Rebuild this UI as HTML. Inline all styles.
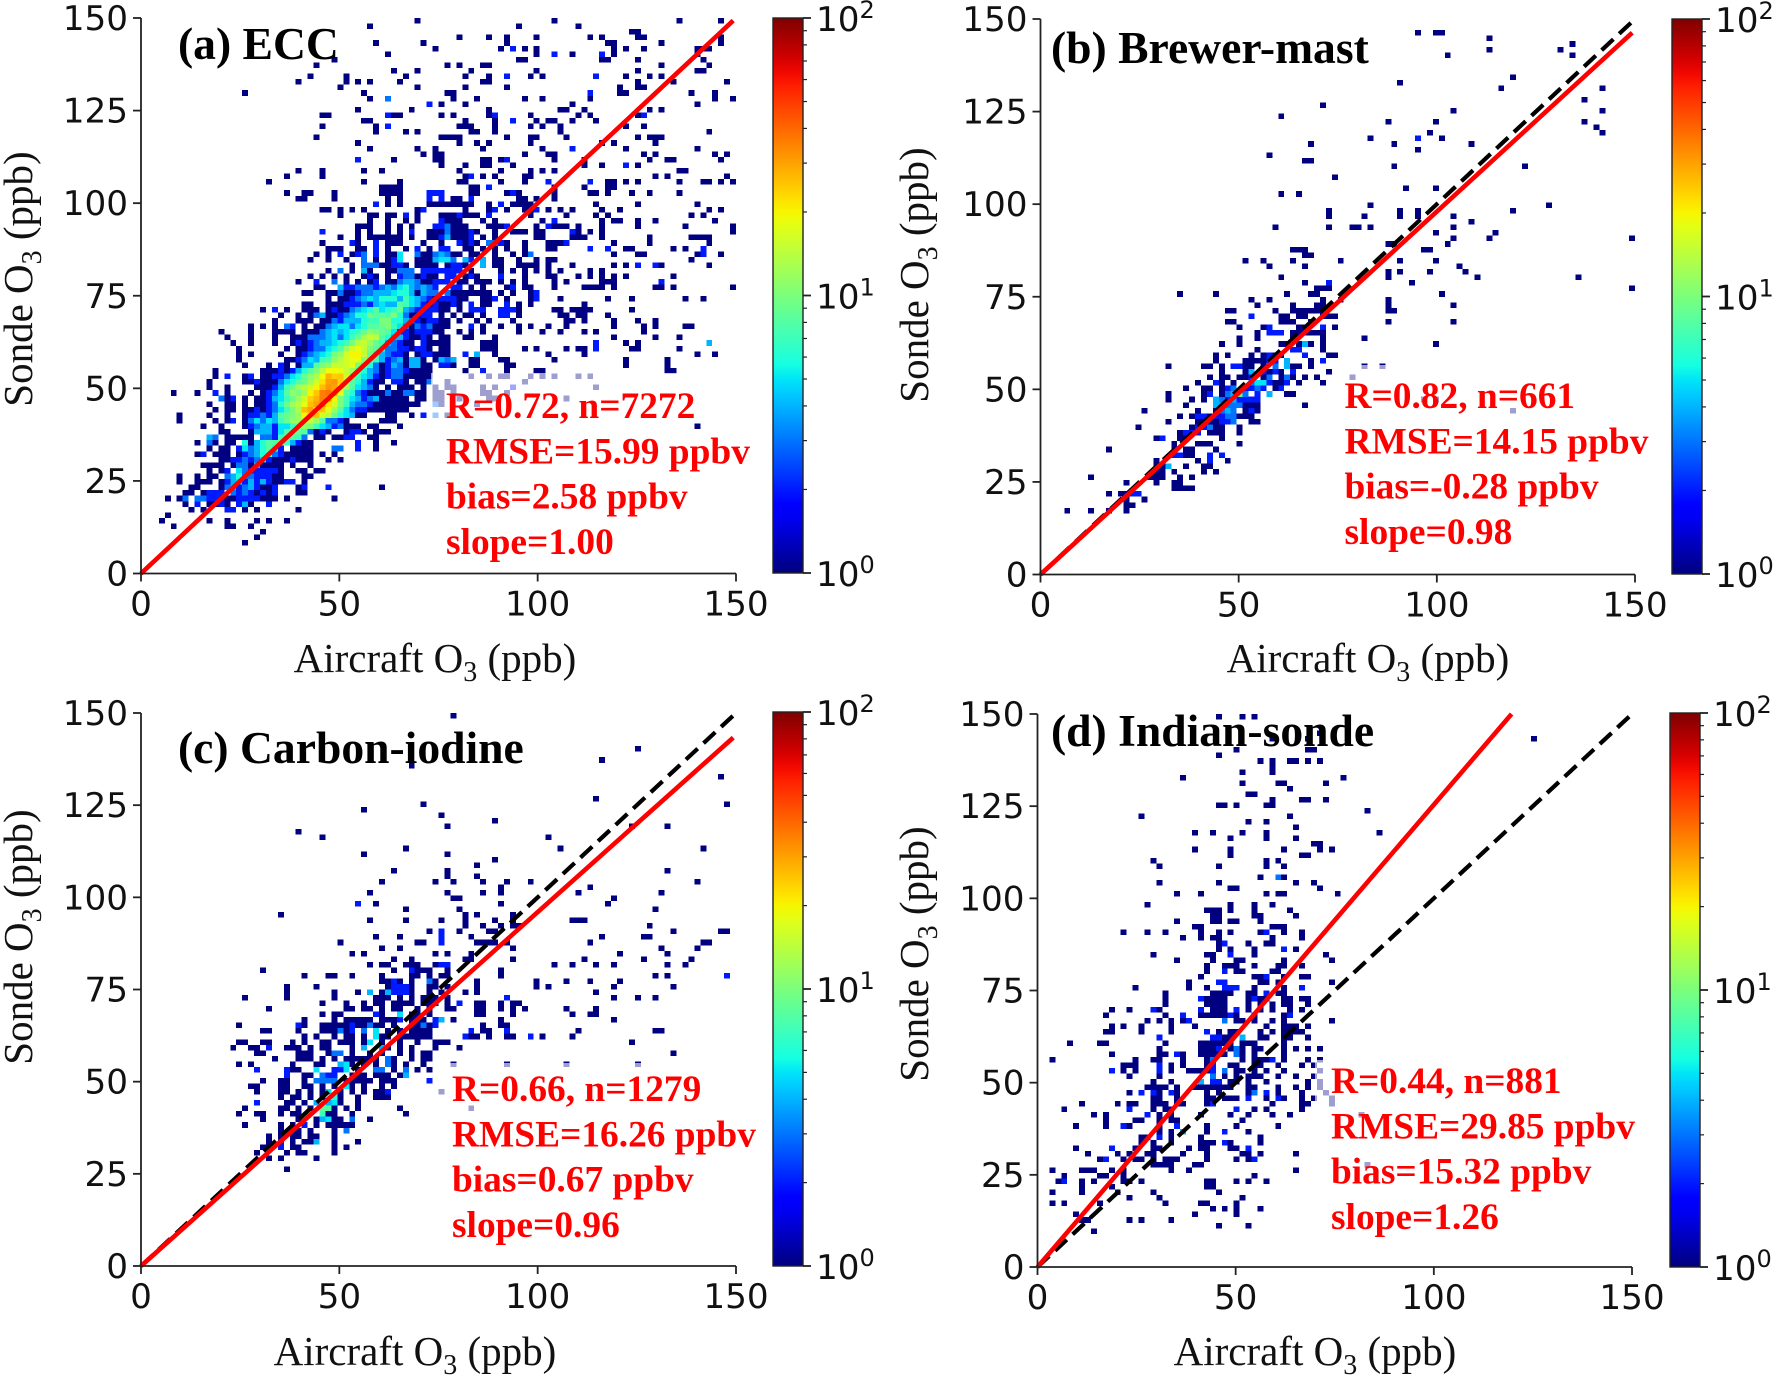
<!DOCTYPE html>
<html lang="en">
<head>
<meta charset="utf-8">
<title>Sonde vs aircraft O3 comparison</title>
<style>
html,body{margin:0;padding:0;background:#fff;}
svg{display:block;}
.tick{font-family:"DejaVu Sans",sans-serif;font-size:34.2px;fill:#111;}
.axis-title{font-family:"Liberation Serif",serif;font-size:41px;fill:#111;}
.panel-title{font-family:"Liberation Serif",serif;font-weight:bold;font-size:45.6px;fill:#000;}
.stat{font-family:"Liberation Serif",serif;font-weight:bold;font-size:37.4px;fill:#ff0000;}
</style>
</head>
<body>
<svg id="figure" xmlns="http://www.w3.org/2000/svg" width="1776" height="1375" viewBox="0 0 1776 1375">
<defs>
<linearGradient id="jet" x1="0" y1="1" x2="0" y2="0"></linearGradient>
</defs>
<rect width="1776" height="1375" fill="#fff"/>
</svg>
<script>
// Axis values
const xTicks = [0, 50, 100, 150];
const yTicks = [0, 25, 50, 75, 100, 125, 150];
const axisMax = 150;
const binWidth = 1.5;
const colorDecades = [0, 1, 2];

// Fit lines [slope]
const fitSlopes = {ecc: 1.00, brewer: 0.98, carbon: 0.96, indian: 1.254};

// 2-D histogram: each row is [yBin, xBin,count, xBin,count, ...]
const eccRows = [
[5,17,1],[6,19,1],[7,20,1],
[8,5,1,14,1,15,1,18,1],
[9,3,1,11,1,14,1,19,1,21,1,24,1],
[10,4,1],
[11,8,1,10,1,14,2,15,2,17,1,19,1,26,1],
[12,7,1,9,2,11,1,12,1,13,2,14,1,16,2,17,4,18,1,21,2],
[13,4,1,6,1,7,3,9,3,10,3,11,2,12,2,13,2,14,1,15,1,16,2,17,2,18,2,19,2,20,1,21,1,22,1,24,1,32,1],
[14,7,1,8,1,10,1,11,2,12,2,13,2,15,3,16,2,17,3,18,2,19,1,20,2,21,1,22,2,26,1,27,1],
[15,8,1,9,1,13,1,14,3,15,4,16,2,17,3,18,4,19,2,20,1,21,1,22,2,26,1,27,2,31,2,40,1],
[16,6,1,9,1,10,1,11,1,13,1,14,2,15,4,16,5,17,2,18,4,19,2,20,4,21,2,22,1,23,1,24,2,25,2,27,1],
[17,6,1,9,1,11,1,12,1,14,3,15,4,16,6,17,3,18,3,19,2,20,2,21,2,22,1,23,1,27,1,28,1],
[18,11,1,13,1,14,2,16,5,17,3,18,2,19,2,20,2,21,2,22,2,23,1,26,1,27,1,29,1,30,1],
[19,10,1,11,1,12,1,13,1,15,1,16,3,17,3,18,1,19,4,20,1,21,1,22,1,23,1,25,1,28,1],
[20,13,1,14,1,15,2,16,2,17,3,18,2,19,3,20,5,21,2,22,1,23,1,24,1,25,2,26,1,27,1,28,1,31,1,33,1],
[21,9,1,10,2,12,1,13,1,14,1,16,1,17,2,18,3,19,4,20,6,21,7,22,3,23,2,24,1,25,1,26,1,27,1,28,1,30,1,32,1],
[22,11,1,13,1,14,1,16,2,17,5,18,3,19,4,20,6,21,8,22,6,23,2,25,1,26,1,27,1,28,1,32,3,33,3,36,2,39,1],
[23,9,1,11,3,12,1,14,1,15,1,17,6,18,1,19,4,20,6,21,8,22,8,23,9,24,7,25,4,26,2,27,1,28,1,36,2,39,1,42,1],
[24,11,4,12,3,14,1,15,1,16,1,17,1,18,1,20,3,21,3,22,2,23,7,24,8,25,8,26,7,27,3,29,1,30,1,32,1,33,1,34,2,35,2,38,1,39,1],
[25,13,1,14,1,18,1,19,4,20,4,21,4,22,2,23,5,24,8,25,9,26,9,27,8,28,3,29,1,30,2,31,1,34,1,35,2,36,2,37,1,39,1,40,1,41,1],
[26,10,1,13,1,17,1,18,2,19,3,20,4,21,4,22,2,23,5,24,5,25,7,26,9,27,11,28,10,29,7,30,5,31,4,32,2,33,3,34,1,35,1,36,1,38,1,39,1,43,1],
[27,6,1,12,1,14,1,15,2,17,1,18,3,19,5,20,3,21,5,22,4,23,7,24,9,25,11,26,12,27,14,28,15,29,12,30,8,31,3,32,3,33,2,34,1,40,1,41,1,42,1],
[28,6,1,11,1,14,1,17,1,18,2,19,2,20,3,21,2,22,4,23,8,24,9,25,10,26,12,27,20,28,24,29,26,30,16,31,14,32,9,33,6,34,5,35,4,36,1,37,1,41,1,42,1,45,1,47,2,49,3],
[29,12,1,14,1,15,1,17,1,18,1,19,2,20,1,21,2,22,3,23,5,24,7,25,10,26,13,27,26,28,30,29,20,30,25,31,18,32,12,33,8,34,5,35,3,36,2,37,2,38,1,39,1,40,1,41,1,42,1,43,1,44,1],
[30,11,1,14,1,15,1,17,1,19,1,20,1,21,2,22,3,23,6,24,9,25,12,26,14,27,18,28,26,29,30,30,35,31,22,32,16,33,10,34,7,35,4,36,3,37,3,38,2,39,1,40,1,41,1,42,1,43,1,44,1,45,1,46,1,49,3],
[31,13,3,14,1,15,2,17,1,19,1,20,1,21,2,22,4,23,5,24,7,25,9,26,12,27,16,28,24,29,28,30,36,31,32,32,20,33,10,34,7,35,5,36,4,37,2,38,3,39,4,40,1,41,1,42,1,43,1,44,1,46,1,47,1],
[32,5,1,9,1,12,2,14,1,18,1,20,1,21,2,22,3,23,5,24,8,25,11,26,10,27,12,28,20,29,25,30,36,31,38,32,30,33,18,34,8,35,6,36,3,37,2,38,1,39,1,40,1,41,3,42,1,43,1,44,3,45,3,46,1,47,1],
[33,11,1,14,1,19,1,20,1,21,1,22,2,23,4,24,7,25,9,26,12,27,14,28,16,29,20,30,26,31,32,32,30,33,22,34,12,35,8,36,5,37,4,38,3,39,1,41,1,43,1,44,1,45,1,47,1],
[34,11,1,17,1,18,1,19,2,20,1,21,1,22,1,23,3,24,5,25,6,26,8,27,9,28,12,29,16,30,22,31,30,32,32,33,24,34,12,35,8,36,6,37,4,38,2,39,1,40,1,42,2,43,2,44,1,46,1,47,1,48,3],
[35,12,1,14,2,17,1,18,2,20,1,21,1,22,2,23,2,24,3,25,5,26,6,27,9,28,11,29,13,30,19,31,28,32,24,33,25,34,16,35,10,36,7,37,5,38,4,39,2,40,1,41,2,42,3,43,3,44,1,45,1,46,1,47,1,48,1],
[36,12,1,20,1,21,1,22,1,23,2,24,1,25,2,26,4,27,6,28,8,29,10,30,14,31,19,32,19,33,18,34,15,35,12,36,8,37,6,38,4,39,3,40,1,41,2,42,3,43,3,44,2,45,1,46,1,47,1,48,1],
[37,17,1,21,1,23,2,24,1,26,1,27,4,28,4,29,8,30,10,31,11,32,15,33,15,34,16,35,18,36,10,37,8,38,6,39,3,40,1,41,2,42,4,43,3,44,1,45,4,46,4,47,1,48,1],
[38,16,1,24,1,25,1,26,2,27,3,28,5,29,4,30,7,31,8,32,11,33,14,34,16,35,18,36,18,37,11,38,8,39,7,40,4,41,2,42,3,43,4,44,1,45,4,46,4,47,1,49,1],
[39,16,1,18,1,23,1,26,1,27,2,28,3,29,4,30,5,31,6,32,10,33,11,34,16,35,20,36,20,37,15,38,9,39,6,40,4,41,3,42,2,43,2,44,1,46,1,47,2,48,2,49,1],
[40,16,1,24,1,26,1,27,1,28,2,29,3,30,3,31,5,32,6,33,8,34,12,35,16,36,18,37,15,38,10,39,8,40,6,41,3,42,3,43,2,44,2,45,1,46,2,47,2,48,1],
[41,15,1,18,1,22,1,25,1,26,2,27,1,28,2,29,3,30,4,31,4,32,5,33,6,34,7,35,10,36,14,37,15,38,12,39,9,40,7,41,4,42,3,43,2,44,1,45,1,47,2,48,1,49,1],
[42,14,1,18,1,22,1,25,1,26,1,27,1,28,3,29,3,30,3,31,4,32,5,33,3,34,5,35,7,36,9,37,13,38,15,39,14,40,8,41,6,42,4,43,4,44,2,45,1,46,1,47,2,48,1],
[43,13,1,18,1,22,1,23,1,24,1,25,1,27,1,28,1,29,1,30,3,31,4,32,5,33,4,34,5,35,6,36,7,37,9,38,11,39,10,40,9,41,8,42,5,43,2,44,2,45,1,46,2,47,2,48,2,49,1],
[44,18,1,20,1,22,1,24,3,25,2,27,1,29,1,30,1,31,3,32,4,33,5,34,5,35,3,36,5,37,6,38,8,39,8,40,9,41,10,42,7,43,5,44,3,45,1,46,3,47,2,48,3],
[45,22,1,26,1,27,1,28,1,30,1,31,1,32,3,33,2,34,4,35,4,36,4,37,6,38,7,39,7,40,10,41,10,42,6,43,6,44,4,45,3,46,2,47,1,48,2,49,2],
[46,23,1,26,1,28,1,29,3,30,4,31,1,32,1,33,2,34,3,35,4,36,6,37,6,38,9,39,8,40,8,41,8,42,10,43,6,44,3,45,1,46,1,47,2,48,2],
[47,20,1,22,2,24,1,27,1,28,1,29,1,31,1,32,2,33,1,34,1,35,3,36,4,37,5,38,6,39,8,40,5,41,6,42,7,43,9,44,4,45,3,46,2,47,2,48,2,49,2],
[48,27,1,28,1,31,1,32,1,33,1,34,2,35,2,36,2,37,3,38,2,39,4,40,5,41,4,42,4,43,8,44,7,45,5,46,4,47,2,48,1,49,2],
[49,31,1,33,1,34,1,35,2,36,3,37,4,38,5,39,4,40,6,41,6,42,6,43,4,44,7,45,5,46,4,47,3,48,2,49,1,61,1,70,1,78,1,82,1,91,1,94,1],
[50,27,1,28,1,31,1,32,1,33,3,34,1,35,1,36,2,37,3,38,3,39,4,40,4,41,4,42,5,43,6,44,6,45,4,46,1,47,4,48,3,49,3,51,3,53,1,54,1,56,1,57,1,58,1],
[51,29,1,30,1,33,4,34,2,35,2,36,3,37,3,38,3,39,2,40,3,41,4,42,3,43,5,44,6,45,4,46,3,47,4,48,3,49,2,52,2,53,2,55,1,57,1,61,1,62,2,64,1,65,1,69,1,74,1,75,1,76,1,77,1,79,1,86,1,87,1,89,1,99,1],
[52,26,1,29,2,32,3,34,1,36,1,38,1,39,2,41,1,42,1,43,3,44,4,45,4,46,3,47,1,48,1,49,2,50,2,51,2,53,1,54,1,56,1,57,1,58,1,60,1,62,1,64,1,69,1,71,1,77,1,78,1,79,1,87,2],
[53,28,1,30,1,32,1,34,1,37,1,38,2,39,1,41,1,43,2,44,3,45,3,46,1,47,2,48,1,49,1,51,2,52,2,54,1,55,2,56,1,60,2,64,1,68,1,69,1,73,1,75,1,77,1,79,1,81,1,89,1],
[54,31,1,33,3,35,1,37,4,38,1,41,1,42,1,43,3,44,3,45,3,47,2,48,2,49,2,50,2,51,2,52,2,53,2,55,1,60,1,62,1,64,1,66,1,68,1,70,1,75,1,77,1],
[55,35,1,37,3,38,3,39,3,40,1,41,1,42,2,43,2,44,1,46,1,47,1,48,1,49,1,51,1,52,2,53,2,54,1,57,4,59,1,60,1,63,1,64,1,65,1,66,1,68,1,72,1,79,1,81,1,83,2,86,2,87,1,95,1],
[56,28,1,31,1,34,1,37,3,39,1,41,1,42,2,43,5,46,1,47,1,48,1,49,4,50,5,51,5,52,3,54,4,55,2,57,4,59,1,60,1,63,1,66,1,68,1,69,1,92,1],
[57,29,1,31,1,33,2,35,1,36,2,37,3,39,2,41,1,42,1,43,5,46,3,47,1,48,1,49,3,50,4,51,3,52,1,53,1,55,1,56,1,59,1,62,1,64,1,65,3,79,1,83,1,84,1,93,1,94,2,97,1],
[58,31,1,32,1,33,1,36,1,37,1,39,2,41,1,44,1,46,2,48,1,50,2,51,2,54,1,55,1,57,1,59,1,61,1,64,1,68,1,69,1,75,2,78,2,81,1,82,1,89,1,91,1,94,2],
[59,30,1,35,2,36,1,39,2,41,1,42,1,43,1,47,1,50,1,53,2,54,1,55,2,56,1,58,3,59,3,60,2,61,1,64,1,68,1,69,1,70,1,71,2,79,1,85,1,95,1],
[60,33,1,36,1,38,1,39,1,40,1,41,1,42,1,43,1,45,1,48,1,49,1,50,2,51,4,52,1,53,1,54,1,55,2,57,1,59,1,66,1,67,1,72,1,73,1,74,1,77,1,92,1,93,1,94,1,95,1,85,1],
[61,30,2,36,1,38,1,41,1,43,1,45,2,48,1,49,1,50,1,51,3,52,1,53,1,54,1,55,2,56,1,59,1,62,1,63,1,64,1,66,1,67,1,72,2,73,1,75,1,77,1,99,1],
[62,36,1,37,1,38,1,41,1,43,1,45,1,49,2,50,2,51,3,52,1,53,1,54,1,58,1,59,1,60,1,61,2,66,1,68,2,69,1,70,1,71,1,73,1,77,1,83,1,91,1,99,1],
[63,38,1,41,1,44,1,46,1,50,2,51,1,52,1,53,1,57,1,59,1,67,1,69,2,77,1,79,1,80,1,83,1,86,1,96,1],
[64,33,1,38,1,39,1,41,1,42,1,44,2,46,1,50,1,51,1,52,1,53,2,54,1,55,1,56,1,58,2,65,1,71,1,76,1,78,1,92,1,94,1],
[65,30,1,31,1,33,1,35,1,37,1,46,1,47,2,54,1,58,1,59,2,61,1,64,1,65,1,66,2,68,1,70,1,72,1,77,1,80,1,95,1,97,1],
[66,39,2,41,1,43,1,48,1,49,1,50,1,51,1,52,1,53,1,54,1,55,1,58,1,60,2,62,1,63,1,64,1,65,1,76,1,83,1,93,1],
[67,26,1,27,1,32,1,41,1,43,1,48,2,50,2,52,1,53,1,55,2,63,1,64,1,66,1,69,1],
[68,40,1,41,1,42,1,43,1,48,2,49,2,50,2,55,1,56,1,61,1,62,2,63,1,69,1,75,1,76,1,78,1,82,1,85,1,90,1,24,1,27,1,28,1,32,1],
[69,40,1,41,1,42,1,43,1,55,1,56,1,58,2,69,1,74,1,78,1,79,1],
[70,21,1,37,1,43,1,53,1,54,1,60,1,64,1,68,2,75,2,78,1,79,1,81,1,83,1,90,1,94,1,95,1,97,1,99,1],
[71,24,1,30,1,54,1,55,2,57,1,59,1,64,1,65,1,86,1,88,1,98,1],
[72,26,1,30,1,37,1,40,1,53,1,60,1,65,1,67,1,69,1,90,1,91,1],
[73,50,1,54,1,57,1,58,1,62,1,74,1,77,1,81,2,83,1],
[74,36,2,42,1,49,1,50,1,57,1,58,1,60,1,61,2,69,1,74,1,85,1,88,1,89,1,97,1],
[75,47,1,49,1,50,1,64,1,68,1,69,1,84,1,86,1,96,1,98,1],
[76,38,1,46,1,49,1,57,1,67,1,72,2,81,1,93,1],
[77,36,1,53,1,56,1,58,1,65,1,77,1,79,1,86,1],
[78,29,1,50,1,51,1,52,1,53,1,61,1,65,1,66,1,71,1,83,1,85,1,86,1,87,1],
[79,39,1,44,1,46,1,55,1,56,1,59,1,70,1,95,1],
[80,30,1,39,1,41,2,53,1,54,1,55,1,59,1,65,1,67,1,70,1,81,1,84,1],
[81,37,1,38,1,54,1,59,1,62,2,66,1,68,1,69,1,72,1,76,1],
[82,30,1,31,1,41,2,42,1,43,1,50,1,52,1,58,1,59,2,65,1,73,1,75,1,83,1,84,2],
[83,36,1,45,1,58,1,70,1,71,1,74,1,85,1,87,1],
[84,48,2,50,1,54,1,72,1,93,1],
[85,38,1,41,3,52,1,56,1,64,1,67,1,75,1,96,1,99,1],
[86,17,1,37,1,51,1,52,1,75,2,80,1,81,1,92,1,96,1],
[87,33,1,46,1,54,1,61,1,80,1,83,1,84,1],
[88,26,1,34,1,36,1,38,1,43,1,57,1,58,1,83,1,89,1,98,1],
[89,28,1,34,1,44,1,54,1,58,1,61,2,65,1,67,1,76,2,81,1,85,1,87,1],
[90,42,1,46,1,55,1,66,1,83,1,93,1,94,1],
[91,29,1,51,1,53,1,57,1,58,1,87,1,95,1],
[92,32,1,63,1,64,1,77,1,78,1,83,1,94,1],
[93,41,1,66,1,69,2,72,1,77,2,79,1,93,1],
[94,49,1,60,1,62,2,64,1,66,1,79,1,81,1,84,1,93,1,94,1,95,1],
[95,39,1,47,1,61,1,78,1,79,1,87,1,97,1],
[96,53,1,58,1,61,1,66,1,75,1,77,1,83,1,84,1,97,1],
[97,82,1,83,1],[98,38,1,63,1,73,1],[99,46,1,69,1,90,1,97,1],
[50,52,1,55,1,60,1,62,1,65,1,66,2],
[49,50,2,51,2,52,2,53,1,54,1,57,1,58,1,59,2,65,1,66,2],
[48,50,1,51,1,52,2,53,1,55,2,57,1,58,1,61,2,63,1,65,1,74,1],
[47,50,1,51,1,53,1,55,2,56,2,57,2,60,2,61,2,62,2,63,1,69,1,70,1,72,1,73,1,74,1,75,1,82,1],
[46,50,1,52,1,54,1,55,1,57,1,60,2,61,2,63,1,70,1,71,1,73,1,74,1,78,1],
[45,50,1,51,1,53,1,56,1,58,1,62,1,71,1,72,1,74,1,79,1,83,1,86,1],
[44,49,1,50,1,51,1,55,2,57,1,60,1,63,1,65,1,68,1,71,1,79,1,84,1,86,1,91,1,92,1],
[43,50,1,53,1,55,1,57,1,63,1,67,1,70,1,74,1,76,1,84,1],
[42,50,1,51,1,54,1,55,1,59,1,79,1,86,1,90,1],
[41,50,1,51,1,57,1,58,1,59,1,76,2,81,1,83,1,95,4],
[40,50,1,51,1,57,1,58,1,59,1,64,1,66,1,71,1,73,1,74,1,76,2,82,1,83,1,90,1],
[39,50,1,51,1,54,2,56,4,59,1,68,1,74,1,93,1,96,1],
[38,50,4,51,3,52,4,55,1,56,1,60,1,61,1,69,1,81,1,88,1],
[37,50,2,51,2,52,1,55,1,56,1,61,1,62,1,81,1,88,1],
[36,54,1,57,2,61,1,66,1,67,1,88,1,89,1],
[35,55,1,58,1,60,1,61,1,65,1,67,1,69,1,73,1,75,1],
[34,51,1,64,1],
[33,49,1,51,1,52,1,57,1,59,1,62,2,76,1],
[32,49,1,50,1,52,1,57,1,58,1,61,1],
[31,49,1,50,1,53,1,58,1,59,1,71,1],
[30,50,1,56,1],[26,93,1],[28,51,1]
];
const brewerRows = [
[11,4,1,8,1,11,1,14,1],[12,14,1,15,1],[13,17,1,14,1],
[14,11,1,13,1,14,1,15,2,16,2],[15,22,1,23,1,24,1,25,1],
[16,14,1,19,1,22,1,23,1],[17,8,1,18,1,19,1,20,1,23,1,25,1],
[18,19,1,20,1,22,1,27,1,29,1],[19,19,1,20,1,21,4,24,1,27,1,28,1],
[20,19,1,26,1,28,2,31,1],[21,22,2,23,2,24,1,25,1,28,2,30,2],
[22,11,1,22,1,24,1,25,1,29,1],[23,22,1,26,1,27,1,28,1,33,1],
[24,19,1,20,2,23,1,24,1,30,1],[25,23,1,24,2,25,2,26,2,28,1,29,1,30,1,33,1],
[26,16,1,25,1,26,2,27,2,28,3,29,1,30,1,33,1],
[27,21,1,26,1,27,1,28,1,29,1,30,2,31,2,32,3,35,1,36,1],
[28,23,1,25,1,26,2,27,2,28,1,29,2,30,2,31,3,32,3,33,1,34,1,35,1],
[29,17,1,26,1,29,1,30,3,31,4,32,3,34,1,35,2,36,1],
[30,24,1,29,4,30,4,31,3,32,3,33,3,34,1,35,1,36,1,44,1],
[31,21,1,25,1,27,1,29,4,30,3,31,2,32,4,33,2,34,2,35,2,36,2],
[32,21,1,27,1,28,2,30,1,31,3,32,4,33,8,34,3,36,2,38,4,41,1,42,1],
[33,24,1,27,1,28,1,30,1,31,2,32,3,34,2,35,2,36,3,37,2,39,1,40,2],
[34,26,1,29,2,30,1,32,1,35,3,36,5,37,5,38,2,39,1,40,1,41,2,43,1,47,1],
[35,28,1,30,1,31,1,33,1,34,1,35,2,37,1,38,3,40,1,41,3,42,1,44,1,46,1],
[36,30,1,34,1,35,4,37,2,38,1,39,2,40,1,42,2,48,1],
[37,21,1,27,1,28,1,30,1,32,2,33,2,34,1,35,1,37,1,39,3,41,4,42,1,43,1,45,1],
[38,29,1,34,1,35,1,36,1,37,1,38,2,39,2,41,4,45,1,47,2],
[39,29,1,31,1,35,1,37,1,38,2,39,1,40,1,44,2,48,1,49,1],
[40,36,1,42,2,43,2,47,1],[41,30,1,33,1,40,1,41,1,43,1,44,4,45,1,47,1,66,1],
[42,33,1,36,1,42,1,47,1,54,1],
[43,36,1,38,2,39,2,40,2,42,1,43,1,44,1,45,1,46,1,47,1],
[44,33,1,37,1,38,2,43,1,44,1,47,2,49,1],
[45,31,1,32,1,40,1,41,1,42,1,45,1,58,1,69,1],
[46,35,2,40,1,41,1,43,1,44,1,47,1,48,1,49,1],
[47,31,1,32,1,39,1,42,1,43,1,44,1,45,1,46,1,47,1,58,1,59,1],
[48,36,1,42,1,46,1,47,1,58,1,69,1],
[49,35,1,38,1,47,1,50,1,58,1],
[50,23,1,29,1,41,1,45,1,46,1,67,1],
[51,46,1,47,1,48,1,99,1],[52,44,1,48,2,62,1],
[53,40,1,58,1,73,1,90,1],[54,58,1,60,1,65,1,71,1],
[55,38,1,44,1,70,1],[56,34,1,37,1,42,1,50,1,60,1,66,1],
[57,44,1,45,1],[58,42,1,43,1,44,1,64,1,65,1],
[59,58,1,59,1,68,1],[60,69,1,75,1,99,1],[61,66,1,76,1],
[62,39,1,48,1,52,1,53,1,55,1,69,1],[63,72,1],[64,48,1,54,1,60,1,63,1,69,1],
[65,48,1,60,1,63,1,79,1],[66,55,1,85,1],[68,40,1,43,1],[69,61,1,66,1],
[71,49,1],[73,59,1,81,1],[74,44,1,45,1],[75,38,1],[76,63,1],
[77,45,1,59,1,72,1],[78,55,1,63,2,67,1],[79,65,1,94,1],[80,93,1],
[81,58,1,66,1,91,1],[82,40,1],[83,69,1,94,1],[84,47,1],[85,91,1],
[87,77,1,94,1],[88,60,1],[89,79,1],[93,68,1,89,1],[94,75,1,87,1],
[95,89,1],[96,75,1],[97,63,1,66,1,67,1],
[37,54,1,57,1],[35,52,1],[29,79,1],[31,64,1,66,1]
];
const carbonRows = [
[17,24,1],
[19,21,1,23,1,29,1],
[20,19,1,24,1,26,1,27,1,32,1],
[21,20,1,21,1,23,2,25,1,26,1,32,1,34,1],
[22,21,1,23,2,25,1,27,1,28,1,29,4,32,1,36,1],
[23,21,1,23,1,25,1,26,1,28,1,29,1,32,1],
[24,23,1,25,1,26,1,28,1,32,1,34,3],
[25,17,1,23,1,25,1,27,2,29,1,31,1,32,1,33,1,34,1,35,1],
[26,20,1,26,1,29,1,30,4,31,5,32,1,33,1,35,3,38,1],
[27,16,1,19,1,20,1,23,1,25,1,26,1,30,7,31,1,32,1,35,1,44,1],
[28,17,1,23,1,24,1,26,1,28,1,30,8,31,8,32,1,34,1,36,1,43,1],
[29,19,2,24,1,25,1,27,1,29,4,31,4,32,5,33,1,36,1],
[30,23,1,25,1,26,1,28,1,30,1,32,6,33,1,36,1,39,1,40,1,41,1],
[31,19,1,23,1,24,1,26,1,28,1,30,1,31,5,33,1,35,1,37,1,39,1,40,1,41,2],
[32,18,1,19,1,23,1,24,1,27,1,28,1,30,1,32,1,34,5,35,1,37,1,40,1,42,1],
[33,20,1,23,1,24,1,27,1,29,3,30,3,31,3,32,3,34,1,35,1,36,1,37,1,38,1,40,1,41,1,42,1,48,2],
[34,24,2,27,1,28,1,30,3,31,2,32,2,35,1,36,1,37,1,39,1,40,1,41,1,43,1,44,4],
[35,19,2,24,2,25,1,26,1,29,5,32,2,33,2,34,5,36,1,39,3,40,3,42,1,44,3,46,1,48,1],
[36,16,1,18,1,25,1,29,1,30,1,33,4,34,5,35,1,37,1,39,1,41,3,42,1,44,1,47,1],
[37,22,1,26,1,27,1,28,1,30,1,32,1,34,1,35,1,36,1,37,1,38,1,39,1,41,3,42,1,45,1,47,1,48,1],
[38,19,1,20,1,26,1,27,1,28,1,31,1,32,3,33,3,35,1,38,1,40,1,43,1,45,1,47,1,48,1,89,1],
[39,15,1,18,1,19,1,21,2,24,1,25,1,26,1,28,1,30,1,31,1,35,1,37,4,40,4,41,1,43,1,45,1,49,1,53,1],
[40,16,1,17,1,20,1,21,1,25,1,27,1,30,1,31,1,33,1,34,1,35,1,37,1,38,5,40,1,43,1,46,1,49,1,50,1,51,1,82,1],
[41,27,1,29,1,32,1,34,1,35,1,37,1,39,5,40,1,41,1,43,1,44,1,45,1,46,1,47,1,48,1,54,2,55,1,56,1,58,1,61,1,62,1,65,2,67,1,72,1],
[42,20,1,21,1,26,1,30,1,31,1,32,1,33,3,34,1,35,2,37,3,39,5,41,1,43,1,45,1,46,1,47,1,48,1,55,2,57,1,58,1,61,2,73,1,86,1,87,1],
[43,16,1,26,2,27,1,30,1,31,1,32,1,33,1,34,1,35,2,36,1,37,1,38,3,39,1,40,1,42,1,45,1,46,1,47,3,48,1,49,2,57,1,60,1,61,1],
[44,27,1,32,1,34,1,35,1,36,1,37,1,38,1,40,1,41,1,42,1,43,2,45,1,46,1,47,1,49,2,50,4,52,1,60,1,79,1],
[45,30,1,32,1,33,1,39,2,40,1,43,5,45,1,46,1,48,1,56,1,57,1,62,1,72,1,75,1,76,1],
[46,21,1,34,1,35,1,37,1,38,1,40,1,42,1,43,1,46,1,48,1,51,1,52,1,56,1,57,1,60,1,62,1,64,1,71,1,76,1],
[47,30,1,34,1,37,1,39,1,40,1,42,1,43,1,44,1,45,1,47,1,48,1,49,1,51,1,53,2,56,1,57,1,60,1,62,1,63,1],
[48,17,1,24,1,32,1,39,1,40,1,41,1,43,1,45,1,47,1,48,1,49,1,51,1,61,2,83,1,86,1,79,1],
[49,24,1,32,1,36,1,38,4,40,1,41,4,42,2,43,2,44,2,45,1,48,1,50,1,54,1,56,1,76,1],
[50,24,1,29,1,41,1,42,2,43,2,44,2,45,1,48,1,49,1,51,1,56,1,66,1,68,1,79,1,89,1],
[51,40,1,41,1,42,2,43,1,45,1,48,3,49,1,56,1,66,1,71,1,75,1,80,1],
[52,27,1,31,1,32,1,35,1,40,1,45,1,46,1,48,1,50,1,51,1,60,1,86,1,88,1,98,2],
[53,20,1,42,1,45,2,46,1,47,1,48,1,51,1,60,1],
[54,38,1,40,1,41,1,44,1,45,1,46,1,49,1,50,2,51,2,69,1,72,1,76,1,79,1,88,1,91,1],
[55,42,1,45,1,54,1,55,1,62,1,74,1,84,1,92,1],
[56,35,1,37,1,49,1,51,1,55,1,80,1,88,1],
[57,40,1,43,1,62,1,87,1,93,1],
[58,33,1,46,1,47,1,50,2,56,1,57,1,58,1,59,1,61,1,75,1,94,1,95,1],
[59,39,1,43,1,50,2,55,1,77,1,84,1,85,1],
[60,48,1,50,2,53,1,58,1,59,1,89,1,97,1,98,1],
[61,54,1,57,1,60,1,62,1,63,1,85,1],
[62,38,1,44,1,50,1,54,1,59,1,62,1,72,1,73,1,74,1],
[63,23,1,54,1,56,1,62,1],[64,44,1,53,1,86,1],[65,36,2,60,1,39,1,78,1],
[66,52,1,53,1,79,1],[67,38,1,51,1,57,1,60,1,73,1,87,1],[68,60,1,75,1],
[69,40,1,49,1,52,1,57,1,61,1,65,1,93,1],[70,51,1,56,1],
[71,42,1,51,1,88,1],[72,56,1],[73,59,1],[74,37,1,51,1],[75,44,1,70,1,94,1],
[77,30,1,68,1],[78,26,1],[79,51,1,82,1,88,1],[80,59,1],[81,50,1],
[82,37,1],[83,47,1,98,1],[84,76,1],[88,97,1],[90,45,1],[91,77,1],[93,83,1],[99,52,1],
[36,52,1,61,1,71,1,83,1],[31,50,1],[28,55,1]
];
const indianRows = [
[6,9,1],[7,30,1,35,1],[8,7,1,8,1,15,1,17,1,22,1],[9,6,1,26,1,33,1],
[10,29,1,31,1,33,1,37,1],
[11,2,1,4,1,10,1,21,1,27,1,28,1,33,1],
[12,15,1,20,1,34,1],
[13,2,1,7,1,13,1,19,1,30,1],
[14,12,1,28,1,29,1,7,1],
[15,3,1,4,2,7,1,9,1,14,1,15,1,17,1,28,1,29,1,33,1,35,1,38,1],
[16,4,1,10,1,11,1,14,1,36,1],
[17,2,1,7,1,8,1,9,1,12,1,14,1,22,1,25,1,43,1],
[18,19,1,20,1,21,1,22,1,26,1,27,1,55,1],
[19,10,1,11,2,14,1,16,1,17,1,19,1,21,1,22,1,23,1,28,1,33,1,35,1,36,2],
[20,8,1,13,1,15,1,18,1,19,1,24,1,28,1,34,1,35,1,37,1,43,1],
[21,6,1,12,2,16,1,19,1,20,1,25,1,27,1,28,1,32,1,33,1,35,2],
[22,17,1,19,1,22,1,27,1,28,1,29,1,31,2,32,1,37,1],
[23,17,1,18,1,20,2,22,1,27,1,37,1],
[24,20,1,22,1,24,4,28,1,31,2,35,1],
[25,6,1,11,1,14,2,15,1,20,1,23,2,28,1,33,1,40,1],
[26,11,1,16,1,17,1,20,1,22,1,23,1,34,1],
[27,9,1,11,1,18,2,20,1,22,1,27,1,32,1,35,1,39,1,42,1],
[28,4,1,15,2,19,1,21,1,22,1,33,2,36,1,38,1,44,1],
[29,7,1,13,1,15,1,16,1,19,1,20,1,21,1,23,1,24,1,28,1,29,2,39,1,44,1,45,1],
[30,19,1,20,1,23,1,28,1,29,1,31,1,32,1,33,1,35,2,38,1,40,2,41,1,44,1,46,1],
[31,15,1,17,2,19,2,20,1,22,2,23,1,28,1,30,1,35,1,36,3,38,2,40,1,44,1],
[32,18,1,19,1,20,1,21,1,23,1,26,1,27,1,28,1,29,1,30,1,31,1,32,1,35,1,36,1,40,1,43,1,45,1],
[33,19,1,22,1,27,4,29,2,30,2,32,1,33,1,35,1,38,1,45,1],
[34,15,1,20,1,29,3,31,1,33,1,35,1,36,1,37,1,40,1,43,1,46,1],
[35,12,2,14,1,16,1,20,2,22,1,25,1,26,1,27,1,28,1,29,2,31,3,33,1,34,1,36,1,38,1,41,1],
[36,14,1,15,1,16,1,20,2,22,1,24,1,28,1,29,2,32,1,33,1,36,1,37,1,40,1,44,1,46,1],
[37,2,1,16,1,19,1,20,1,24,1,28,1,29,3,34,1,36,1,37,1,38,1,39,2,41,1,45,1],
[38,12,1,20,1,21,1,23,2,24,1,27,1,28,1,29,1,30,1,31,1,33,3,34,1,36,1,41,1],
[39,20,1,27,1,28,1,29,1,30,2,32,1,33,3,34,1,36,1,37,1,41,1,43,1,45,1],
[40,5,1,10,1,11,1,21,1,27,1,28,1,29,1,30,1,31,1,32,1,34,1,35,1,36,1,41,1],
[41,20,2,29,2,30,2,31,1,32,1,34,4,37,1,38,1,41,1,42,1,45,1],
[42,11,1,12,1,17,1,22,1,28,2,30,1,32,1,33,1,37,1,39,1,41,1,42,1,43,1,44,1],
[43,12,1,14,1,17,1,22,1,26,1,38,1,41,1,42,1,43,1,45,1],
[44,18,1,20,1,22,1,24,1,25,2,31,3,33,1,34,1,36,1,39,1,41,1,49,1],
[45,11,1,21,1,24,2,27,1,28,1,29,1,30,1,31,1,32,2,33,1,36,1,41,1,42,2],
[46,12,1,15,1,19,2,20,1,27,2,29,1,30,1,31,1,33,2,35,1,37,1,39,1,42,1,44,1],
[47,21,1,28,1,29,1,30,1,31,1,35,1,37,1,39,1,41,1,42,1,45,1],
[48,21,1,27,2,28,1,29,1,30,1,31,1,35,1,36,2,37,1,38,1,41,1,42,1,44,1,45,1],
[49,21,1,29,1,30,1,31,1,32,1,35,1,36,1,38,2,40,1,41,1],
[50,16,1,25,1,28,1,31,2,32,2,33,2,36,1,41,1,44,2],
[51,25,1,30,2,31,2,37,1,38,1,40,1,49,1],
[52,27,1,36,1,37,1,38,2,41,1,44,1,45,1],
[53,28,1,31,2,33,1,34,1,39,1,40,1],
[54,28,1,31,1,32,1,33,1,36,1,40,1,41,1,44,1],
[55,23,1,29,1,33,1,34,1,41,1,49,1],
[56,19,1,28,1,29,1,32,2,36,1,48,1],
[57,30,1,32,1,36,1,41,2,43,1],
[58,30,1,31,2,35,1,38,1,39,1],
[59,24,1,27,1,29,1,30,1,39,1,44,1],
[60,14,1,18,1,21,1,27,1,30,1,32,1,37,1,38,2,41,1,44,1],
[61,26,1,27,1,39,1,40,1,41,1],
[62,23,1,29,1,30,1,32,1,33,1,37,1],
[63,29,1,30,1,36,1,37,1,43,1],
[64,28,1,32,1,36,1,42,1,29,1,30,1],
[65,18,1,32,1,39,1,39,1,36,1],
[67,23,1,27,1,38,1,40,1,41,1,50,1],[68,32,1,33,1,47,1],
[69,20,1,30,1,43,1,46,1],[70,37,1,40,3,41,1],
[72,20,1,30,1,38,1,41,1],[73,19,1,38,1,40,1],[74,32,1,44,1,45,1],
[75,26,1,32,1,41,1,47,1,49,1],[76,46,1,47,1],[77,43,1,32,1,38,1],
[78,26,1,29,1,34,1,38,1,57,1],[79,43,1],[80,35,1,38,1],[81,17,1,42,1],
[82,55,1],[83,30,1,31,1,33,1,38,1,39,1],[84,39,1,44,1,45,1,48,1],
[85,35,1,36,1],[86,42,1],[87,34,1,40,1,41,1,48,1],[88,24,1,51,1],
[89,34,1,39,1],[90,39,1],[91,37,1,39,1,42,1,43,1,45,1,47,1],[92,30,1],
[93,33,1,45,1,46,1],[95,39,1,45,1,83,1],[96,47,1],[99,30,1,34,1,36,1],
[35,47,1],[33,47,1],[32,47,1],[31,48,1],[30,46,1,49,1],[29,49,1],[39,47,1],[36,46,1],
[27,54,1],[37,47,1]
];

// Printed text
const panelLabels = ["(a) ECC", "(b) Brewer-mast", "(c) Carbon-iodine", "(d) Indian-sonde"];
const statLines = [
  ["R=0.72, n=7272", "RMSE=15.99 ppbv", "bias=2.58 ppbv", "slope=1.00"],
  ["R=0.82, n=661", "RMSE=14.15 ppbv", "bias=-0.28 ppbv", "slope=0.98"],
  ["R=0.66, n=1279", "RMSE=16.26 ppbv", "bias=0.67 ppbv", "slope=0.96"],
  ["R=0.44, n=881", "RMSE=29.85 ppbv", "bias=15.32 ppbv", "slope=1.26"]
];

// Layout (pixels)
const layouts = [
  {id:"ecc", rows:eccRows, slope:fitSlopes.ecc, x0:141, x1:736, y0:573.5, y1:18, cbX:773, cbW:30, cbY0:573, cbY1:18,
   titleX:178, titleY:59, statX:446, statY:418, xLabelX:435, xLabelY:672, yLabelX:32, yLabelY:279, veil:[431,373,250,200]},
  {id:"brewer", rows:brewerRows, slope:fitSlopes.brewer, x0:1040.5, x1:1635, y0:574.5, y1:19, cbX:1672, cbW:30, cbY0:574, cbY1:19,
   titleX:1051, titleY:63, statX:1344.5, statY:408, xLabelX:1368, xLabelY:672, yLabelX:928, yLabelY:275, veil:[1335,365,300,205]},
  {id:"carbon", rows:carbonRows, slope:fitSlopes.carbon, x0:141, x1:736, y0:1266, y1:713, cbX:773, cbW:30, cbY0:1266, cbY1:712,
   titleX:178, titleY:763, statX:452, statY:1101, xLabelX:415, xLabelY:1365, yLabelX:32, yLabelY:937, veil:[437,1063,300,200]},
  {id:"indian", rows:indianRows, slope:fitSlopes.indian, x0:1037.5, x1:1632, y0:1267, y1:714, cbX:1670, cbW:30, cbY0:1267, cbY1:713,
   titleX:1051, titleY:746, statX:1331, statY:1093, xLabelX:1315, xLabelY:1365, yLabelX:928, yLabelY:954, veil:[1315,1060,315,200]}
];
const statLineGap = 45.3;

const SVGNS = "http://www.w3.org/2000/svg";
const figure = document.getElementById("figure");

function make(tag, attrs, parent, text) {
  const el = document.createElementNS(SVGNS, tag);
  for (const k in attrs) el.setAttribute(k, attrs[k]);
  if (text !== undefined) el.textContent = text;
  parent.appendChild(el);
  return el;
}
function lerpStops(stops, t) {
  for (let i = 1; i < stops.length; i++) {
    if (t <= stops[i][0]) {
      const a = stops[i - 1], b = stops[i];
      return a[1] + (b[1] - a[1]) * (t - a[0]) / (b[0] - a[0]);
    }
  }
  return stops[stops.length - 1][1];
}
const jetR = [[0,0],[0.35,0],[0.66,1],[0.89,1],[1,0.5]];
const jetG = [[0,0],[0.125,0],[0.375,1],[0.64,1],[0.91,0],[1,0]];
const jetB = [[0,0.5],[0.11,1],[0.34,1],[0.65,0],[1,0]];
function jet(t) {
  const c = s => Math.round(255 * lerpStops(s, t));
  return "rgb(" + c(jetR) + "," + c(jetG) + "," + c(jetB) + ")";
}
function countColor(n) {
  const lo = colorDecades[0], hi = colorDecades[colorDecades.length - 1];
  return jet((Math.log10(n) - lo) / (hi - lo));
}

// colour-bar gradient
const gradient = document.getElementById("jet");
for (let s = 0; s <= 40; s++) {
  make("stop", {offset: (s / 40), "stop-color": jet(s / 40)}, gradient);
}

function drawPanel(p, index) {
  const xScale = v => p.x0 + (p.x1 - p.x0) * v / axisMax;
  const yScale = v => p.y0 + (p.y1 - p.y0) * v / axisMax;

  const g = make("g", {}, figure);
  
  

  // heatmap cells
  const cells = make("g", {"shape-rendering": "crispEdges"}, g);
  
  
  p.rows.forEach(row => {
    const yBin = row[0];
    for (let k = 1; k < row.length; k += 2) {
      const xBin = row[k], count = row[k + 1];
      const x = xScale(xBin * binWidth), y = yScale((yBin + 1) * binWidth);
      const rect = make("rect", {
        x: x.toFixed(2), y: y.toFixed(2),
        width: (xScale((xBin + 1) * binWidth) - x).toFixed(2),
        height: (yScale(yBin * binWidth) - y).toFixed(2),
        fill: countColor(count)
      }, cells);
      
      
    }
  });

  // faded backdrop behind the statistics
  const veil = make("rect", {x: p.veil[0], y: p.veil[1], width: p.veil[2], height: p.veil[3], fill: "#fff", "fill-opacity": 0.62}, g);
  
  

  // 1:1 line
  const dash = make("line", {x1: xScale(0), y1: yScale(0), x2: xScale(149.5), y2: yScale(149.5), stroke: "#000", "stroke-width": 4.2, "stroke-dasharray": "16 8"}, g);
  
  

  // regression line
  const xEnd = Math.min(149.3, axisMax / p.slope);
  const fit = make("line", {x1: xScale(0), y1: yScale(0), x2: xScale(xEnd), y2: yScale(xEnd * p.slope), stroke: "#ff0000", "stroke-width": 4.6}, g);
  
  

  // axes
  const spineL = make("line", {x1: p.x0, y1: p.y0 + 1, x2: p.x0, y2: p.y1, stroke: "#222", "stroke-width": 1.8}, g);
  
  
  const spineB = make("line", {x1: p.x0, y1: p.y0, x2: p.x1, y2: p.y0, stroke: "#222", "stroke-width": 1.8}, g);
  
  

  xTicks.forEach(v => {
    const tick = make("line", {x1: xScale(v), y1: p.y0, x2: xScale(v), y2: p.y0 + 8, stroke: "#222", "stroke-width": 1.8}, g);
    
    
    const label = make("text", {x: xScale(v), y: p.y0 + 42, "text-anchor": "middle", class: "tick"}, g, String(v));
    
    
  });
  yTicks.forEach(v => {
    const tick = make("line", {x1: p.x0 - 8, y1: yScale(v), x2: p.x0, y2: yScale(v), stroke: "#222", "stroke-width": 1.8}, g);
    
    
    const label = make("text", {x: p.x0 - 13, y: yScale(v) + 12, "text-anchor": "end", class: "tick"}, g, String(v));
    
    
  });

  // axis titles
  const xTitle = make("text", {x: p.xLabelX, y: p.xLabelY, "text-anchor": "middle", class: "axis-title"}, g);
  
  
  make("tspan", {}, xTitle, "Aircraft O");
  make("tspan", {dy: 9, "font-size": 28}, xTitle, "3");
  make("tspan", {dy: -9}, xTitle, " (ppb)");

  const yTitle = make("text", {transform: "translate(" + p.yLabelX + "," + p.yLabelY + ") rotate(-90)", "text-anchor": "middle", class: "axis-title"}, g);
  
  
  make("tspan", {}, yTitle, "Sonde O");
  make("tspan", {dy: 9, "font-size": 28}, yTitle, "3");
  make("tspan", {dy: -9}, yTitle, " (ppb)");

  // panel title
  const title = make("text", {x: p.titleX, y: p.titleY, class: "panel-title"}, g, panelLabels[index]);
  
  

  // statistics
  statLines[index].forEach((line, k) => {
    const stat = make("text", {x: p.statX, y: p.statY + k * statLineGap, class: "stat"}, g, line);
    
    
  });

  // colour bar
  const cb = make("g", {}, g);
  
  
  const barRect = make("rect", {x: p.cbX, y: p.cbY1, width: p.cbW, height: p.cbY0 - p.cbY1, fill: "url(#jet)", stroke: "#222", "stroke-width": 1.4}, cb);
  
  
  const cbScale = d => p.cbY0 + (p.cbY1 - p.cbY0) * d / colorDecades[colorDecades.length - 1];
  colorDecades.forEach(d => {
    const tick = make("line", {x1: p.cbX + p.cbW, y1: cbScale(d), x2: p.cbX + p.cbW + 8, y2: cbScale(d), stroke: "#222", "stroke-width": 1.8}, cb);
    
    
    const lab = make("text", {x: p.cbX + p.cbW + 13, y: cbScale(d) + 13, class: "tick"}, cb);
    
    
    make("tspan", {}, lab, "10");
    make("tspan", {dy: -13, "font-size": 24}, lab, String(d));
    if (d < colorDecades[colorDecades.length - 1]) {
      for (let m = 2; m <= 9; m++) {
        const my = cbScale(d + Math.log10(m));
        const minor = make("line", {x1: p.cbX + p.cbW, y1: my, x2: p.cbX + p.cbW + 4, y2: my, stroke: "#222", "stroke-width": 1.2}, cb);
        
        
      }
    }
  });
}
layouts.forEach(drawPanel);
</script>
</body>
</html>
